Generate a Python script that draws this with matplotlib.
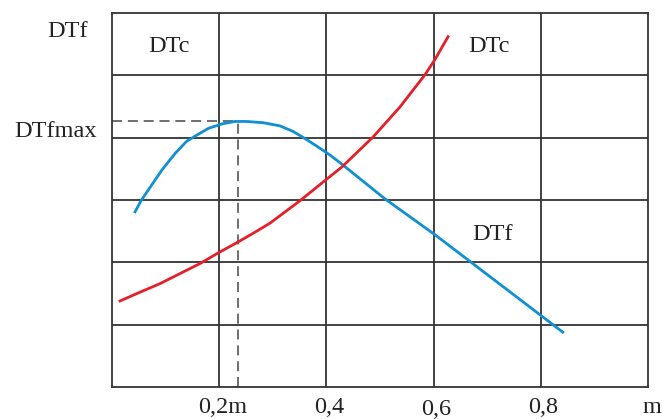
#!/usr/bin/env python3

import matplotlib.pyplot as plt

# DTf curve (blue)
dtf_x = [0.043, 0.055, 0.074, 0.093, 0.118, 0.139, 0.158, 0.180, 0.205, 0.229, 0.251,
         0.282, 0.313, 0.338, 0.363, 0.388, 0.407, 0.431, 0.509, 0.603, 0.841]
dtf_y = [2.81, 3.00, 3.24, 3.48, 3.75, 3.94, 4.04, 4.15, 4.22, 4.26, 4.26,
         4.24, 4.19, 4.10, 3.97, 3.83, 3.72, 3.56, 3.02, 2.44, 0.88]

# DTc curve (red)
dtc_x = [0.015, 0.052, 0.090, 0.127, 0.164, 0.198, 0.236, 0.270, 0.295, 0.351,
         0.397, 0.429, 0.458, 0.487, 0.537, 0.584, 0.603, 0.627]
dtc_y = [1.38, 1.52, 1.66, 1.82, 1.98, 2.15, 2.33, 2.50, 2.63, 2.99,
         3.31, 3.53, 3.77, 4.01, 4.49, 5.01, 5.26, 5.62]

# optimum
opt_x = 0.235
opt_y = 4.27

tick_pos = [0.2, 0.4, 0.6, 0.8, 1.0]
tick_labels = ["0,2m", "0,4", "0,6", "0,8", "m"]

FONT = "Liberation Serif"
FS = 17.5
TXT = "#222222"


def main():
    fig = plt.figure(figsize=(6.62, 4.19), dpi=100)
    ax = fig.add_axes([112 / 662, 32 / 419, 536 / 662, 374 / 419])

    ax.set_xlim(0, 1.0)
    ax.set_ylim(0, 6)

    # grid
    for gx in [0.2, 0.4, 0.6, 0.8]:
        ax.axvline(gx, color="#333333", lw=1.3, zorder=1)
    for gy in [1, 2, 3, 4, 5]:
        ax.axhline(gy, color="#333333", lw=1.3, zorder=1)
    for s in ax.spines.values():
        s.set_color("#333333")
        s.set_linewidth(1.3)
    ax.set_xticks([])
    ax.set_yticks([])

    # dashed guide to the maximum
    ax.plot([0, opt_x], [opt_y, opt_y], color="#555555", lw=1.2, dashes=(6, 3.5), zorder=2)
    ax.plot([opt_x, opt_x], [0, opt_y], color="#555555", lw=1.2, dashes=(6, 3.5), zorder=2)

    ax.plot(dtf_x, dtf_y, color="#0f8fd4", lw=2.0, zorder=3)
    ax.plot(dtc_x, dtc_y, color="#e3202a", lw=2.0, zorder=3)

    # labels inside the grid
    ax.text(0.067, 5.37, "DTc", fontsize=FS, family=FONT, ha="left", va="baseline", color=TXT)
    ax.text(0.664, 5.37, "DTc", fontsize=FS, family=FONT, ha="left", va="baseline", color=TXT)
    ax.text(0.672, 2.36, "DTf", fontsize=FS, family=FONT, ha="left", va="baseline", color=TXT)

    # y labels
    ax.text(-0.045, 5.62, "DTf", fontsize=FS, family=FONT, ha="right", va="baseline", color=TXT)
    ax.text(-0.028, 4.01, "DTfmax", fontsize=FS, family=FONT, ha="right", va="baseline", color=TXT)

    # x labels
    xt = ax.get_xaxis_transform()
    for pos, lab in zip(tick_pos, tick_labels):
        y = -0.075 if lab == "0,6" else -0.070
        if lab == "0,2m":
            ax.text(pos - 0.04, y, lab, fontsize=FS, family=FONT, ha="left", va="baseline",
                    color=TXT, transform=xt)
        elif lab == "m":
            ax.text(pos - 0.011, y, lab, fontsize=FS, family=FONT, ha="left", va="baseline",
                    color=TXT, transform=xt)
        else:
            ax.text(pos + 0.005, y, lab, fontsize=FS, family=FONT, ha="center", va="baseline",
                    color=TXT, transform=xt)

    fig.savefig("out.png", dpi=100)
    plt.close()


if __name__ == "__main__":
    main()
